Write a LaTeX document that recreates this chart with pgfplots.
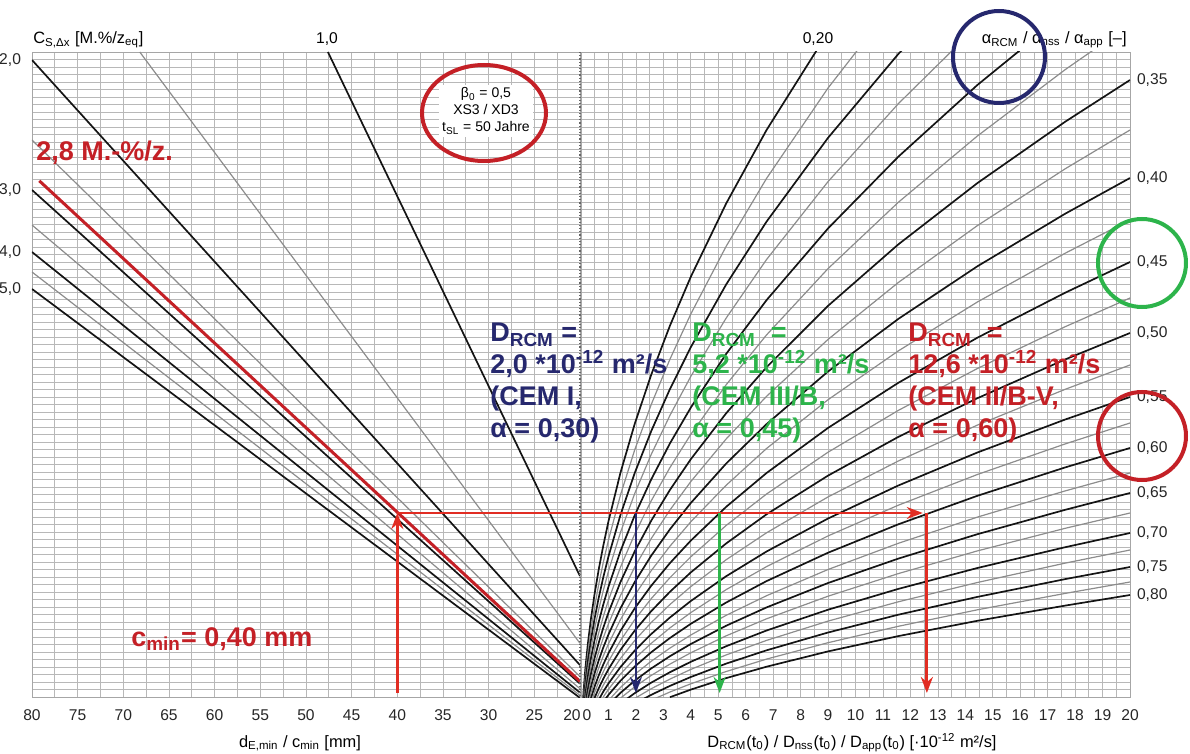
\documentclass[border=0pt]{standalone}
\usepackage{fontspec}
\setmainfont{Liberation Sans}
\usepackage{pgfplots}
\usepackage{pgfplotstable}
\pgfplotsset{compat=1.18}
\usetikzlibrary{arrows.meta}
\definecolor{cRed}{RGB}{196,32,38}
\definecolor{cArrow}{RGB}{225,45,35}
\definecolor{cNavy}{RGB}{38,40,110}
\definecolor{cGreen}{RGB}{45,180,75}

% right-hand family: alpha curves (height units of the nomogram) vs D
\pgfplotstableread{
D c20 c225 c25 c275 c30 c325 c35 c375 c40 c425 c45 c475 c50 c525 c55 c575 c60 c625 c65 c675 c70 c725 c75 c775 c80
0 nan nan nan nan nan nan nan nan nan nan nan nan nan nan nan nan nan nan nan nan nan nan nan nan nan
0.04 -20.1 nan nan nan nan nan nan nan nan nan nan nan nan nan nan nan nan nan nan nan nan nan nan nan nan
0.09 4.4 -1.2 -6.2 -10.6 -15.2 nan nan nan nan nan nan nan nan nan nan nan nan nan nan nan nan nan nan nan nan
0.16 28.8 21.4 14.8 8.9 2.7 -2.7 -7.6 -12.1 nan nan nan nan nan nan nan nan nan nan nan nan nan nan nan nan nan
0.25 53.3 44.0 35.7 28.4 20.6 13.9 7.7 2.1 -3.3 -8.0 nan nan nan nan nan nan nan nan nan nan nan nan nan nan nan
0.36 77.8 66.6 56.6 47.9 38.5 30.5 23.0 16.3 9.9 4.3 -1.4 -6.2 nan nan nan nan nan nan nan nan nan nan nan nan nan
0.49 102.2 89.2 77.6 67.4 56.4 47.1 38.4 30.5 23.1 16.5 9.9 4.2 -1.2 -6.2 nan nan nan nan nan nan nan nan nan nan nan
0.64 126.7 111.8 98.5 86.8 74.4 63.6 53.7 44.8 36.2 28.7 21.2 14.7 8.4 2.8 -3.0 nan nan nan nan nan nan nan nan nan nan
0.81 151.1 134.4 119.5 106.3 92.3 80.2 69.1 59.0 49.4 40.9 32.4 25.1 18.1 11.7 5.3 0.0 -5.0 nan nan nan nan nan nan nan nan
1 175.6 157.0 140.4 125.8 110.2 96.8 84.4 73.2 62.5 53.1 43.7 35.6 27.8 20.7 13.5 7.7 2.1 -3.5 -8.0 nan nan nan nan nan nan
1.44 224.5 202.2 182.3 164.8 146.0 130.0 115.1 101.6 88.8 77.5 66.2 56.5 47.2 38.6 30.0 23.0 16.3 9.6 4.2 -1.1 -6.5 nan nan nan nan
1.96 273.4 247.4 224.2 203.7 181.9 163.1 145.8 130.1 115.1 101.9 88.8 77.4 66.5 56.6 46.5 38.4 30.5 22.7 16.4 10.2 3.9 -1.4 -6.7 nan nan
2.56 322.4 292.6 266.0 242.7 217.7 196.3 176.4 158.5 141.4 126.4 111.3 98.4 85.9 74.5 63.0 53.7 44.8 35.8 28.6 21.6 14.4 8.3 2.2 -3.2 nan
3.24 371.3 337.8 307.9 281.6 253.6 229.4 207.1 187.0 167.7 150.8 133.9 119.3 105.2 92.5 79.5 69.1 59.0 48.9 40.8 32.9 24.8 17.9 11.1 5.0 -0.2
4 420.2 383.0 349.8 320.6 289.4 262.6 237.8 215.4 194.0 175.2 156.4 140.2 124.6 110.4 96.0 84.4 73.2 62.0 53.0 44.2 35.2 27.6 20.0 13.2 7.4
5.29 493.6 450.8 412.6 379.0 343.2 312.3 283.8 258.1 233.5 211.8 190.2 171.6 153.6 137.3 120.8 107.4 94.5 81.7 71.3 61.2 50.8 42.1 33.4 25.5 18.9
6.76 567.0 518.6 475.4 437.5 396.9 362.1 329.8 300.7 272.9 248.5 224.0 203.0 182.7 164.2 145.5 130.4 115.9 101.3 89.6 78.2 66.5 56.6 46.7 37.9 30.3
9 664.8 609.0 559.2 515.4 468.6 428.4 391.2 357.6 325.5 297.3 269.1 244.8 221.4 200.1 178.5 161.1 144.3 127.5 114.0 100.8 87.3 75.9 64.5 54.3 45.6
11.56 nan 699.4 643.0 593.3 540.3 494.7 452.6 414.5 378.1 346.1 314.2 286.6 260.1 236.0 211.5 191.8 172.7 153.7 138.4 123.4 108.1 95.2 82.3 70.7 60.9
14.44 nan nan 726.7 671.2 612.0 561.0 513.9 471.4 430.7 395.0 359.3 328.5 298.8 271.9 244.5 222.5 201.2 179.9 162.8 146.1 129.0 114.5 100.1 87.2 76.2
17.64 nan nan nan nan 683.6 627.4 575.3 528.2 483.3 443.8 404.3 370.3 337.6 307.7 277.5 253.1 229.6 206.1 187.2 168.7 149.8 133.9 117.9 103.6 91.4
20 nan nan nan nan nan 672.5 617 567 519 477 435 399 364 332 300 274 249 224 204 184 164 147 130 115 102
}\alphacurves

\pgfplotsset{
  nomo/.style={
    anchor=south west, scale only axis, height=322.5pt,
    ymin=0, ymax=645,
    ytick distance=7.5, yticklabels={},
    grid=both,
    major grid style={draw=black!28, line width=0.35pt},
    minor grid style={draw=black!28, line width=0.35pt},
    axis line style={draw=black!35, line width=0.4pt},
    xtick style={draw=none}, ytick style={draw=none},
    tick label style={font=\fontsize{7.8}{9}\selectfont, text=black!85},
    xticklabel style={yshift=-3pt},
    /pgf/number format/assume math mode=true,
    extra y tick style={grid=none},
  },
  blk/.style={black!92, line width=0.85pt},
  gry/.style={black!45, line width=0.6pt},
  arr/.style={-{Stealth[length=8pt,width=6pt]}},
}

\begin{document}
\begin{tikzpicture}[x=0.5pt,y=-0.5pt]
\useasboundingbox (0,0) rectangle (1190,754);

% ---------------- left quadrant: cover depth vs. C_S ----------------
\begin{axis}[nomo, at={(16pt,-348.5pt)}, width=274pt,
  xmin=20, xmax=80, x dir=reverse,
  xtick={20,25,...,80}, minor x tick num=1,
  xticklabels={{20\hspace*{8pt}},25,30,35,40,45,50,55,60,65,70,75,80},
  extra y ticks={637,507,445,408},
  extra y tick labels={{2,0},{3,0},{4,0},{5,0}},
  yticklabel style={xshift=-2pt},
]
\addplot[blk] coordinates {(47.6,645) (20,120.9)};
\addplot[gry] coordinates {(68.2,645) (20,53.7)};
\addplot[blk] coordinates {(80,637) (20,31.9)};
\addplot[gry] coordinates {(80,557) (20,20.4)};
\addplot[blk] coordinates {(80,507) (20,13.3)};
\addplot[gry] coordinates {(80,472) (20,8.3)};
\addplot[blk] coordinates {(80,445) (20,4.4)};
\addplot[gry] coordinates {(80,425) (20,1.6)};
\addplot[blk] coordinates {(80,408) (20,-0.9)};
\addplot[cRed, line width=1.5pt] coordinates {(79.2,516.2) (20,15.6)};
% reading path
\addplot[cArrow, line width=1.5pt, arr] coordinates {(40,4) (40,184)};
\addplot[cArrow, line width=1.1pt] coordinates {(40,184) (20,184)};
\end{axis}

% ---------------- right quadrant: D vs. ageing exponent alpha ----------------
\begin{axis}[nomo, at={(290.5pt,-348.5pt)}, width=274.5pt,
  xmin=0, xmax=20,
  xtick={0,...,20}, minor x tick num=1,
  xticklabels={{\hspace*{6pt}0},1,2,3,4,5,6,7,8,9,10,11,12,13,14,15,16,17,18,19,20},
  yticklabel pos=right,
  extra y ticks={617,519,435,364,300,249,204,164,130,102},
  extra y tick labels={{0,35},{0,40},{0,45},{0,50},{0,55},{0,60},{0,65},{0,70},{0,75},{0,80}},
]
\addplot[blk] table[x=D,y=c20] {\alphacurves};
\addplot[gry] table[x=D,y=c225] {\alphacurves};
\addplot[blk] table[x=D,y=c25] {\alphacurves};
\addplot[gry] table[x=D,y=c275] {\alphacurves};
\addplot[blk] table[x=D,y=c30] {\alphacurves};
\addplot[gry] table[x=D,y=c325] {\alphacurves};
\addplot[blk] table[x=D,y=c35] {\alphacurves};
\addplot[gry] table[x=D,y=c375] {\alphacurves};
\addplot[blk] table[x=D,y=c40] {\alphacurves};
\addplot[gry] table[x=D,y=c425] {\alphacurves};
\addplot[blk] table[x=D,y=c45] {\alphacurves};
\addplot[gry] table[x=D,y=c475] {\alphacurves};
\addplot[blk] table[x=D,y=c50] {\alphacurves};
\addplot[gry] table[x=D,y=c525] {\alphacurves};
\addplot[blk] table[x=D,y=c55] {\alphacurves};
\addplot[gry] table[x=D,y=c575] {\alphacurves};
\addplot[blk] table[x=D,y=c60] {\alphacurves};
\addplot[gry] table[x=D,y=c625] {\alphacurves};
\addplot[blk] table[x=D,y=c65] {\alphacurves};
\addplot[gry] table[x=D,y=c675] {\alphacurves};
\addplot[blk] table[x=D,y=c70] {\alphacurves};
\addplot[gry] table[x=D,y=c725] {\alphacurves};
\addplot[blk] table[x=D,y=c75] {\alphacurves};
\addplot[gry] table[x=D,y=c775] {\alphacurves};
\addplot[blk] table[x=D,y=c80] {\alphacurves};
% reading path
\addplot[cArrow, line width=1.1pt, arr] coordinates {(0,184) (12.45,184)};
\addplot[cArrow, line width=1.5pt, arr] coordinates {(12.6,184) (12.6,4)};
\addplot[cNavy, line width=1.2pt, arr] coordinates {(2.0,184) (2.0,4)};
\addplot[cGreen, line width=1.5pt, arr] coordinates {(5.05,184) (5.05,4)};
\end{axis}

% centre divider
\draw[black!60, densely dotted, line width=0.6pt] (580,52) -- (580,697);

% axis titles
\node[anchor=base west, inner sep=0pt, font=\fontsize{8.2}{9}\selectfont] at (33,44) {C\textsubscript{S,Δx} [M.\%/z\textsubscript{eq}]};
\node[anchor=base east, inner sep=0pt, font=\fontsize{8.2}{9}\selectfont] at (1127,44) {α\textsubscript{RCM} / α\textsubscript{nss} / α\textsubscript{app} [–]};
\node[anchor=base, font=\fontsize{7.8}{9}\selectfont] at (327,44) {1,0};
\node[anchor=base, font=\fontsize{7.8}{9}\selectfont] at (818,44) {0,20};
\node[anchor=base, font=\fontsize{8.2}{9}\selectfont] at (300,747) {d\textsubscript{E,min} / c\textsubscript{min} [mm]};
\node[anchor=base, font=\fontsize{8.2}{9}\selectfont] at (852,747) {D\textsubscript{RCM}(t\textsubscript{0}) / D\textsubscript{nss}(t\textsubscript{0}) / D\textsubscript{app}(t\textsubscript{0}) [·10\textsuperscript{-12} m²/s]};

% parameter box
\node[fill=white, inner sep=1.5pt, align=center, font=\fontsize{7}{8.5}\selectfont] at (486,111) {β\textsubscript{0} = 0,5\\XS3 / XD3\\t\textsubscript{SL} = 50 Jahre};
\draw[cRed, line width=2pt] (484,113) ellipse [x radius=62, y radius=48];

% annotations
\node[anchor=base west, inner sep=0pt, text=cRed, font=\bfseries\fontsize{13.5}{15}\selectfont] at (36,161) {2,8 M.-\%/z.};
\node[anchor=base west, inner sep=0pt, text=cRed, font=\bfseries\fontsize{13.5}{15}\selectfont] at (131,646) {c\textsubscript{min}= 0,40 mm};
\node[anchor=north west, align=left, inner sep=0pt, text=cNavy, font=\bfseries\fontsize{13.5}{16}\selectfont] at (490,323) {D\textsubscript{RCM} =\\2,0 *10\textsuperscript{-12} m²/s\\(CEM I,\\α = 0,30)};
\node[anchor=north west, align=left, inner sep=0pt, text=cGreen, font=\bfseries\fontsize{13.5}{16}\selectfont] at (692,323) {D\textsubscript{RCM}\ \ =\\5,2 *10\textsuperscript{-12} m²/s\\(CEM III/B,\\α = 0,45)};
\node[anchor=north west, align=left, inner sep=0pt, text=cRed, font=\bfseries\fontsize{13.5}{16}\selectfont] at (908,323) {D\textsubscript{RCM}\ \ =\\12,6 *10\textsuperscript{-12} m²/s\\(CEM II/B-V,\\α = 0,60)};

% highlight circles
\draw[cNavy, line width=2pt] (999,57) circle [radius=46];
\draw[cGreen, line width=2pt] (1142,263) circle [radius=44];
\draw[cRed, line width=2pt] (1142,436) circle [radius=44];
\end{tikzpicture}
\end{document}
